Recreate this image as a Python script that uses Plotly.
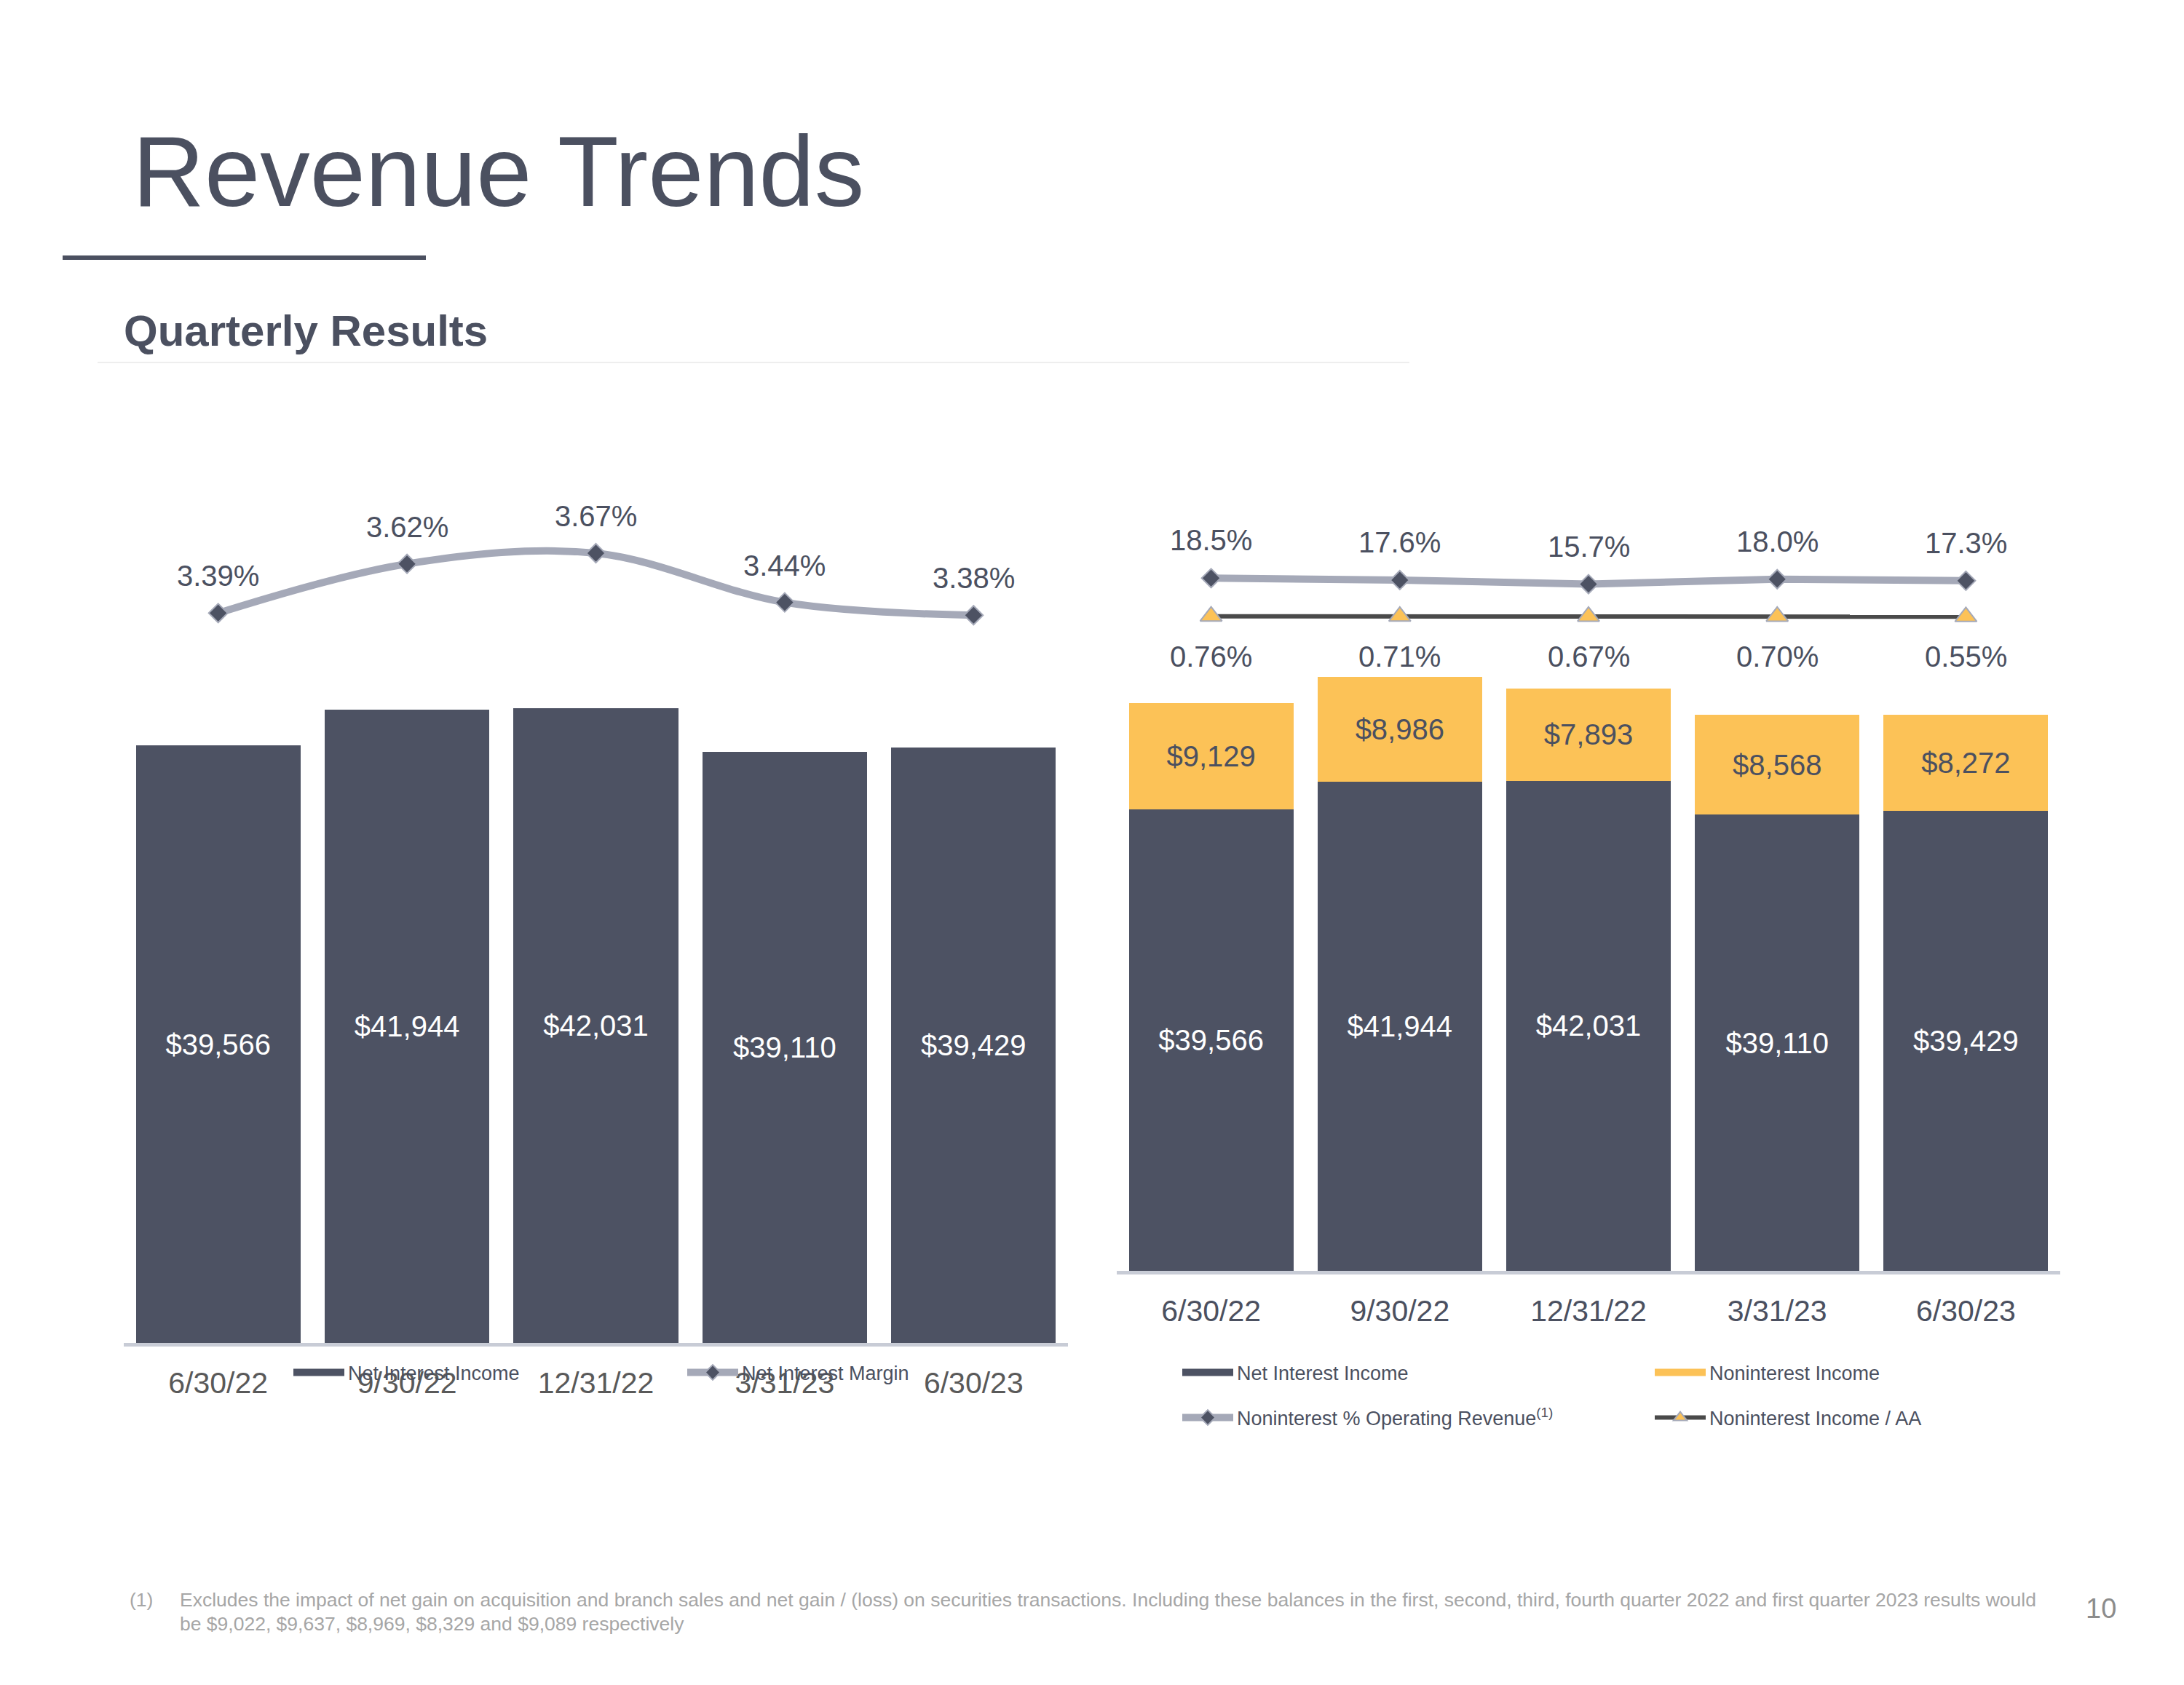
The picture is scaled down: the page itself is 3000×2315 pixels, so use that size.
import plotly.graph_objects as go

W, H = 3000, 2315

# ---------------- data ----------------
quarters = ["6/30/22", "9/30/22", "12/31/22", "3/31/23", "6/30/23"]
net_interest_income = [39566, 41944, 42031, 39110, 39429]
net_interest_margin = [3.39, 3.62, 3.67, 3.44, 3.38]
noninterest_income = [9129, 8986, 7893, 8568, 8272]
nonint_pct_op_revenue = [18.5, 17.6, 15.7, 18.0, 17.3]
nonint_income_aa = [0.76, 0.71, 0.67, 0.70, 0.55]

# ---------------- styles ----------------
DARK = "#4D5263"
YELLOW = "#FCC257"
GRAYLINE = "#A5A9B8"
AXISLINE = "#C8CCD6"
TEXT = "#4B5060"
TICK_L = "#595959"
FOOT = "#A6A6A6"
FONT = "Liberation Sans, Arial, sans-serif"


def fx(p):
    return p / W


def fy(p):
    return 1 - p / H


fig = go.Figure()

# ---------- Left chart ----------
fig.add_trace(go.Bar(
    x=quarters, y=net_interest_income, xaxis="x", yaxis="y",
    name="Net Interest Income", marker=dict(color=DARK, line=dict(width=0)),
    texttemplate="$%{y:,.0f}", textposition="inside", insidetextanchor="middle",
    textangle=0, textfont=dict(size=40, color="white", family=FONT),
    showlegend=False,
))
# legend swatch for the bar series (legend entry only)
fig.add_trace(go.Scatter(
    x=[None], y=[None], xaxis="x", yaxis="y", mode="lines",
    name="Net Interest Income", line=dict(color=DARK, width=14),
    legend="legend", hoverinfo="skip",
))
fig.add_trace(go.Scatter(
    x=quarters, y=net_interest_margin, xaxis="x", yaxis="y3",
    name="Net Interest Margin", mode="lines+markers",
    line=dict(color=GRAYLINE, width=10, shape="spline", smoothing=1.0),
    marker=dict(symbol="diamond", size=20, color=DARK, line=dict(color=GRAYLINE, width=2)),
    legend="legend",
))

# ---------- Right chart ----------
fig.add_trace(go.Bar(
    x=quarters, y=net_interest_income, xaxis="x2", yaxis="y2",
    name="Net Interest Income", marker=dict(color=DARK, line=dict(width=0)),
    texttemplate="$%{y:,.0f}", textposition="inside", insidetextanchor="middle",
    textangle=0, textfont=dict(size=40, color="white", family=FONT),
    showlegend=False,
))
fig.add_trace(go.Bar(
    x=quarters, y=noninterest_income, xaxis="x2", yaxis="y2",
    name="Noninterest Income", marker=dict(color=YELLOW, line=dict(width=0)),
    texttemplate="$%{y:,.0f}", textposition="inside", insidetextanchor="middle",
    textangle=0, textfont=dict(size=40, color=TEXT, family=FONT),
    showlegend=False,
))
fig.add_trace(go.Scatter(
    x=[None], y=[None], xaxis="x2", yaxis="y2", mode="lines",
    name="Net Interest Income", line=dict(color=DARK, width=14),
    legend="legend2", hoverinfo="skip",
))
fig.add_trace(go.Scatter(
    x=[None], y=[None], xaxis="x2", yaxis="y2", mode="lines",
    name="Noninterest Income", line=dict(color=YELLOW, width=14),
    legend="legend2", hoverinfo="skip",
))
fig.add_trace(go.Scatter(
    x=quarters, y=nonint_pct_op_revenue, xaxis="x2", yaxis="y4",
    name="Noninterest % Operating Revenue<sup>(1)</sup>", mode="lines+markers",
    line=dict(color=GRAYLINE, width=10),
    marker=dict(symbol="diamond", size=20, color=DARK, line=dict(color=GRAYLINE, width=2)),
    legend="legend3",
))
fig.add_trace(go.Scatter(
    x=quarters, y=nonint_income_aa, xaxis="x2", yaxis="y4",
    name="Noninterest Income / AA", mode="lines+markers",
    line=dict(color="#4A4A4A", width=6),
    marker=dict(symbol="triangle-up", size=26, color=YELLOW, line=dict(color=GRAYLINE, width=2)),
    legend="legend3",
))

annotations = []
# line value labels
for q, v in zip(quarters, net_interest_margin):
    annotations.append(dict(x=q, y=v, xref="x", yref="y3", text=f"{v:.2f}%",
                            showarrow=False, yshift=51, yanchor="middle",
                            font=dict(size=40, color=TEXT, family=FONT)))
for q, v in zip(quarters, nonint_pct_op_revenue):
    annotations.append(dict(x=q, y=v, xref="x2", yref="y4", text=f"{v:.1f}%",
                            showarrow=False, yshift=52, yanchor="middle",
                            font=dict(size=40, color=TEXT, family=FONT)))
for q, v in zip(quarters, nonint_income_aa):
    annotations.append(dict(x=q, y=v, xref="x2", yref="y4", text=f"{v:.2f}%",
                            showarrow=False, yshift=-55, yanchor="middle",
                            font=dict(size=40, color=TEXT, family=FONT)))

# titles and footnotes
annotations += [
    dict(x=fx(180), y=fy(235), xref="paper", yref="paper", text="Revenue Trends",
         showarrow=False, xanchor="left", yanchor="middle",
         font=dict(size=137, color=TEXT, family=FONT)),
    dict(x=fx(168), y=fy(455), xref="paper", yref="paper", text="<b>Quarterly Results</b>",
         showarrow=False, xanchor="left", yanchor="middle",
         font=dict(size=60, color=TEXT, family=FONT)),
    dict(x=fx(176), y=fy(2198), xref="paper", yref="paper", text="(1)",
         showarrow=False, xanchor="left", yanchor="middle",
         font=dict(size=26.5, color=FOOT, family=FONT)),
    dict(x=fx(245), y=fy(2198), xref="paper", yref="paper",
         text="Excludes the impact of net gain on acquisition and branch sales and net gain / (loss) on securities transactions. Including these balances in the first, second, third, fourth quarter 2022 and first quarter 2023 results would",
         showarrow=False, xanchor="left", yanchor="middle",
         font=dict(size=26.5, color=FOOT, family=FONT)),
    dict(x=fx(245), y=fy(2231), xref="paper", yref="paper",
         text="be $9,022, $9,637, $8,969, $8,329 and $9,089 respectively",
         showarrow=False, xanchor="left", yanchor="middle",
         font=dict(size=26.5, color=FOOT, family=FONT)),
    dict(x=fx(2886), y=fy(2210), xref="paper", yref="paper", text="10",
         showarrow=False, xanchor="center", yanchor="middle",
         font=dict(size=38, color="#8C8C8C", family=FONT)),
]

shapes = [
    dict(type="line", xref="paper", yref="paper", x0=fx(86), x1=fx(585), y0=fy(354), y1=fy(354),
         line=dict(color=TEXT, width=6)),
    dict(type="line", xref="paper", yref="paper", x0=fx(134), x1=fx(1936), y0=fy(498), y1=fy(498),
         line=dict(color="#EEEEEE", width=2)),
]

LEFT_BASE, RIGHT_BASE, TOP = 1845, 1746, 700
left_dom = [fy(LEFT_BASE), fy(TOP)]
right_dom = [fy(RIGHT_BASE), fy(TOP)]

# scales (px per unit)
left_bar_scale = 20.75 / 1000
right_bar_scale = 16.02 / 1000
nim_scale = 294.0
pct_scale = 2.954

left_h = LEFT_BASE - TOP
right_h = RIGHT_BASE - TOP
nim_r0 = 3.67 - (LEFT_BASE - 760) / nim_scale
pct_r0 = 18.5 - (RIGHT_BASE - 794.3) / pct_scale

xcommon = dict(type="category", showgrid=False, zeroline=False, ticks="",
               showline=True, linecolor=AXISLINE, linewidth=5,
               ticklabelstandoff=15, range=[-0.5, 4.5], fixedrange=True)

legcommon = dict(orientation="h", font=dict(size=27, color=TEXT, family=FONT),
                 bgcolor="rgba(0,0,0,0)", itemwidth=70, xanchor="left", yanchor="middle",
                 entrywidthmode="pixels", traceorder="normal", itemclick=False,
                 itemdoubleclick=False)

fig.update_layout(
    width=W, height=H,
    margin=dict(l=0, r=0, t=0, b=0),
    paper_bgcolor="white", plot_bgcolor="white",
    barmode="stack", bargap=0.128,
    font=dict(family=FONT, color=TEXT),
    xaxis=dict(domain=[fx(170), fx(1467)], anchor="y",
               tickfont=dict(size=41, family=FONT, color=TICK_L), **xcommon),
    xaxis2=dict(domain=[fx(1534), fx(2830)], anchor="y2",
                tickfont=dict(size=41, family=FONT, color=TEXT), **xcommon),
    yaxis=dict(domain=left_dom, range=[0, left_h / left_bar_scale], visible=False, fixedrange=True),
    yaxis2=dict(domain=right_dom, range=[0, right_h / right_bar_scale], visible=False, fixedrange=True),
    yaxis3=dict(overlaying="y", anchor="x", range=[nim_r0, nim_r0 + left_h / nim_scale], visible=False, fixedrange=True),
    yaxis4=dict(overlaying="y2", anchor="x2", range=[pct_r0, pct_r0 + right_h / pct_scale], visible=False, fixedrange=True),
    legend=dict(x=fx(398), y=fy(1886), entrywidth=456, **legcommon),
    legend2=dict(x=fx(1619), y=fy(1886), entrywidth=564, **legcommon),
    legend3=dict(x=fx(1619), y=fy(1948), entrywidth=564, **legcommon),
    annotations=annotations,
    shapes=shapes,
    showlegend=True,
)

fig.write_html("out.html", config={"displayModeBar": False},
               post_script="document.body.style.margin='0px';document.body.style.padding='0px';")
